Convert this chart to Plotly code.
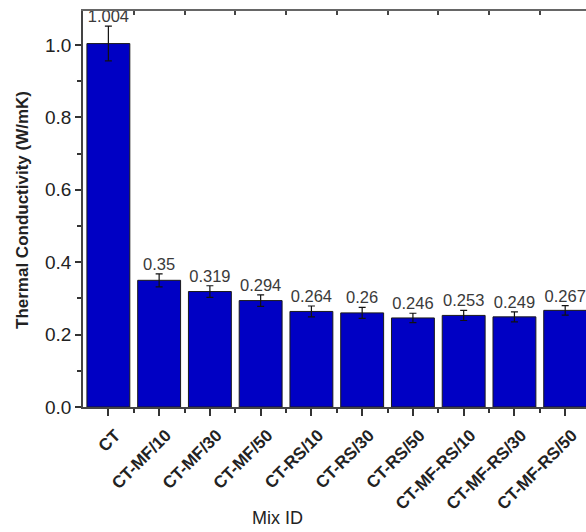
import plotly.graph_objects as go

# Thermal conductivity of each mix
mix_ids = ["CT", "CT-MF/10", "CT-MF/30", "CT-MF/50", "CT-RS/10", "CT-RS/30",
           "CT-RS/50", "CT-MF-RS/10", "CT-MF-RS/30", "CT-MF-RS/50"]
conductivity = [1.004, 0.35, 0.319, 0.294, 0.264, 0.26, 0.246, 0.253, 0.249, 0.267]
std_dev = [0.048, 0.018, 0.016, 0.016, 0.015, 0.015, 0.013, 0.014, 0.014, 0.013]
y_ticks = [0.0, 0.2, 0.4, 0.6, 0.8, 1.0]

FONT = "Liberation Sans, Arial, sans-serif"
positions = list(range(len(mix_ids)))
x_range = [-0.5, 9.41]
y_range = [0, 1.094]

fig = go.Figure()

fig.add_trace(go.Bar(
    x=positions,
    y=conductivity,
    marker=dict(color="rgb(0,0,196)", line=dict(color="#1a1a1a", width=1)),
    error_y=dict(type="data", array=std_dev, visible=True,
                 color="#111111", thickness=1.2, width=3.5),
    showlegend=False,
))

# value labels sitting just above each error bar
fig.add_trace(go.Scatter(
    x=positions,
    y=[v + e for v, e in zip(conductivity, std_dev)],
    mode="text",
    text=[f"{v:g}" for v in conductivity],
    textposition="top center",
    textfont=dict(family=FONT, size=16.5, color="#3a3a3a"),
    cliponaxis=False,
    showlegend=False,
))

# top frame with ticks at the category boundaries
fig.add_trace(go.Scatter(x=[0], y=[0], xaxis="x2", mode="markers",
                         marker=dict(opacity=0), showlegend=False,
                         hoverinfo="skip"))

fig.update_layout(
    width=586, height=532,
    margin=dict(l=83, r=0, t=11, b=125),
    paper_bgcolor="white", plot_bgcolor="white",
    bargap=0.155,
    font=dict(family=FONT, color="#222222"),
    xaxis=dict(
        range=x_range,
        tickmode="array", tickvals=positions, ticktext=mix_ids,
        tickangle=-45,
        tickfont=dict(family=FONT, size=17, color="#222222", weight="bold"),
        ticklabelstandoff=3, ticklabelshift=7,
        ticks="outside", ticklen=7, tickwidth=1.5, tickcolor="#333333",
        minor=dict(tickmode="array", tickvals=[p + 0.5 for p in positions[:-1]],
                   ticks="outside", ticklen=4, tickwidth=1.5, tickcolor="#333333"),
        showline=True, linecolor="#444444", linewidth=1.5,
        showgrid=False, zeroline=False,
    ),
    xaxis2=dict(
        overlaying="x", side="top", range=x_range,
        tickmode="array", tickvals=[p + 0.5 for p in positions[:-1]],
        ticks="inside", ticklen=4, tickwidth=1.5, tickcolor="#444444",
        showticklabels=False,
        showline=True, linecolor="#666666", linewidth=1.5,
        showgrid=False, zeroline=False,
    ),
    yaxis=dict(
        range=y_range,
        tickmode="array", tickvals=y_ticks, ticktext=[f"{t:.1f}" for t in y_ticks],
        tickfont=dict(family=FONT, size=19, color="#222222"),
        ticks="outside", ticklen=6, tickwidth=1.5, tickcolor="#333333",
        minor=dict(tickmode="array", tickvals=[0.1, 0.3, 0.5, 0.7, 0.9],
                   ticks="outside", ticklen=4, tickwidth=1.5, tickcolor="#333333"),
        showline=True, linecolor="#444444", linewidth=1.5,
        showgrid=False, zeroline=False,
    ),
    annotations=[
        dict(text="Mix ID", x=277, y=518, xref="paper", yref="paper",
             xanchor="center", yanchor="middle",
             showarrow=False, font=dict(family=FONT, size=18, color="#222222")),
        dict(text="<b>Thermal Conductivity (W/mK)</b>", x=22, y=210,
             xref="paper", yref="paper", textangle=-90, showarrow=False,
             xanchor="center", yanchor="middle",
             font=dict(family=FONT, size=17, color="#222222")),
    ],
)

# annotation coordinates above are given in pixels; convert to paper fractions
plot_w = 586 - 83
plot_h = 532 - 11 - 125
for ann in fig.layout.annotations:
    px, py = ann.x, ann.y
    ann.x = (px - 83) / plot_w
    ann.y = (532 - 125 - py) / plot_h

fig.write_html("out.html")
